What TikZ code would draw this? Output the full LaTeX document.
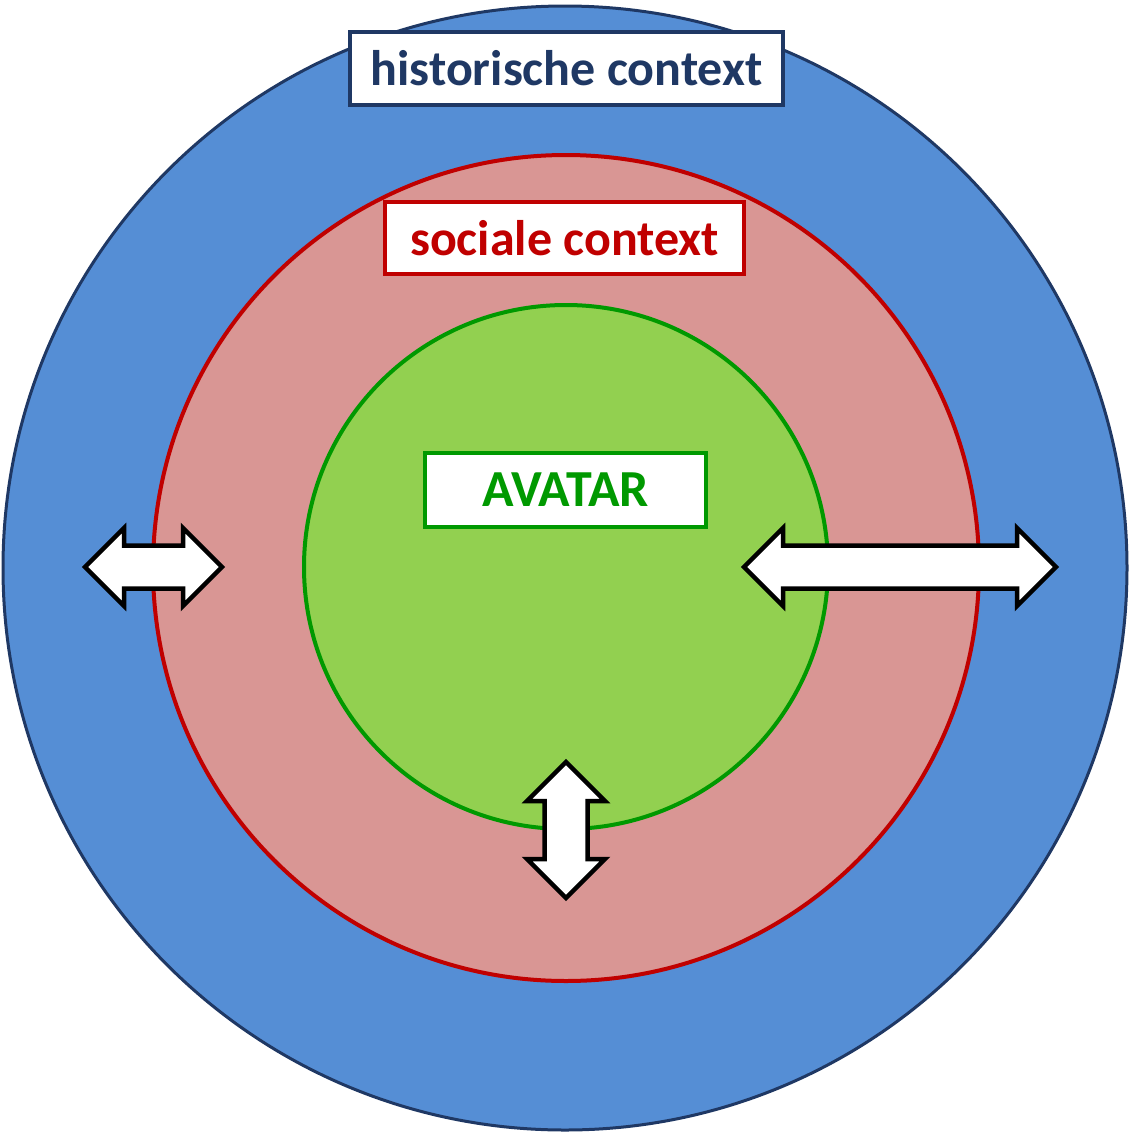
\documentclass[tikz,border=0pt]{standalone}
\usepackage{fontspec}
\setmainfont{Carlito}
\usetikzlibrary{positioning}
\definecolor{histblue}{RGB}{85, 142, 213}
\definecolor{histnavy}{RGB}{31, 56, 100}
\definecolor{socpink}{RGB}{217, 150, 148}
\definecolor{socred}{RGB}{192, 0, 0}
\definecolor{avalime}{RGB}{146, 208, 80}
\definecolor{avagreen}{RGB}{0, 153, 0}

\begin{document}
\begin{tikzpicture}[
  x=1pt, y=-1pt,
  ring/.style={line width=4pt},
  tag/.style={draw, fill=white, line width=4pt, inner sep=0pt,
              font=\fontsize{50}{56}\selectfont\bfseries},
  arrowbody/.style={draw=black, fill=white, line width=4.5pt, line join=miter},
  pics/twoway/.style={code={
    \path[arrowbody] (-#1,0) -- (-#1+39,-39) -- (-#1+39,-21.5) -- (#1-39,-21.5)
      -- (#1-39,-39) -- (#1,0) -- (#1-39,39) -- (#1-39,21.5) -- (-#1+39,21.5)
      -- (-#1+39,39) -- cycle;}}
]
  \useasboundingbox (0,0) rectangle (1129,1136);

  % rings
  \node[circle, ring, line width=3pt, draw=histnavy, fill=histblue,
        minimum size=1124pt, inner sep=0pt] (hist) at (565,568) {};
  \node[circle, ring, draw=socred, fill=socpink,
        minimum size=826pt, inner sep=0pt] (soc) at (566,568) {};
  \node[circle, ring, draw=avagreen, fill=avalime,
        minimum size=524pt, inner sep=0pt] (ava) at (566,567) {};

  % labels
  \node[tag, draw=histnavy, text=histnavy, minimum width=433pt,
        minimum height=73pt] (histtag) at (566.5,68.5) {historische context};
  \node[tag, draw=socred, text=socred, minimum width=359pt,
        minimum height=72pt] (soctag) at (564.5,238) {sociale context};
  \node[tag, draw=avagreen, text=avagreen, minimum width=281pt,
        minimum height=74pt, font=\fontsize{52}{58}\selectfont\bfseries]
        (avatag) at (565.5,490) {AVATAR};

  % exchanges
  \pic at (153.5,567) {twoway=68.5};
  \pic at (900,567) {twoway=156};
  \pic[rotate=90] at (566,830) {twoway=68};
\end{tikzpicture}
\end{document}
